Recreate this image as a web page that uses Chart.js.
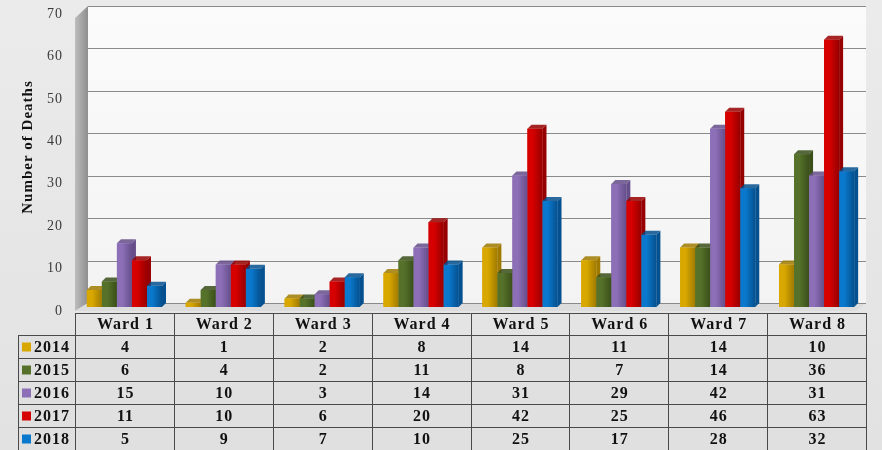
<!DOCTYPE html>
<html>
<head>
<meta charset="utf-8">
<script src="https://cdn.jsdelivr.net/npm/chart.js@4.4.1/dist/chart.umd.min.js"></script>
<style>
html,body{margin:0;padding:0;background:#e6e6e6;}
#wrap{width:882px;height:450px;position:relative;}
</style>
</head>
<body>
<div id="wrap"><canvas id="c" width="882" height="450"></canvas></div>
<script>
const wards = ['Ward 1','Ward 2','Ward 3','Ward 4','Ward 5','Ward 6','Ward 7','Ward 8'];
const years = ['2014','2015','2016','2017','2018'];
const v2014 = [4,1,2,8,14,11,14,10];
const v2015 = [6,4,2,11,8,7,14,36];
const v2016 = [15,10,3,14,31,29,42,31];
const v2017 = [11,10,6,20,42,25,46,63];
const v2018 = [5,9,7,10,25,17,28,32];
const series = [v2014,v2015,v2016,v2017,v2018];
const yTitle = 'Number of Deaths';
const colors = ['#d9a800','#56722a','#8d6fb8','#d60000','#0a78cc'];
const dark = ['#a07a00','#3a4f1a','#654e8a','#960000','#05508e'];
const yMin = 0, yMax = 70, yStep = 10;

const SERIF = '"Liberation Serif","DejaVu Serif",serif';
const D = 4; // 3D depth

const bgPlugin = {
  id:'bg',
  beforeDraw(chart){
    const {ctx, chartArea:a} = chart;
    const ys = chart.scales.y;
    ctx.letterSpacing = '1px';
    ctx.save();
    let g = ctx.createLinearGradient(0,0,0,450);
    g.addColorStop(0,'#ebebeb'); g.addColorStop(1,'#e2e2e2');
    ctx.fillStyle = g; ctx.fillRect(0,0,882,450);
    const wallL = a.left + 13;
    g = ctx.createLinearGradient(0,a.top,0,a.bottom);
    g.addColorStop(0,'#fbfbfb'); g.addColorStop(1,'#f3f3f3');
    ctx.fillStyle = g;
    ctx.fillRect(wallL, a.top - 4, a.right - wallL, a.bottom - a.top);
    g = ctx.createLinearGradient(a.left,0,wallL,0);
    g.addColorStop(0,'#bdbdbd'); g.addColorStop(1,'#8e8e8e');
    ctx.fillStyle = g;
    ctx.beginPath();
    ctx.moveTo(a.left, a.top + 8);
    ctx.lineTo(wallL, a.top - 4);
    ctx.lineTo(wallL, a.bottom - 4);
    ctx.lineTo(a.left, a.bottom + 4);
    ctx.closePath(); ctx.fill();
    ctx.fillStyle = '#dcdcdc';
    ctx.beginPath();
    ctx.moveTo(a.left, a.bottom + 4);
    ctx.lineTo(wallL, a.bottom - 4);
    ctx.lineTo(a.right, a.bottom - 4);
    ctx.lineTo(a.right - 10, a.bottom + 4);
    ctx.closePath(); ctx.fill();
    ctx.strokeStyle = '#8a8a8a'; ctx.lineWidth = 1;
    ys.ticks.forEach(t => {
      const y = Math.round(ys.getPixelForValue(t.value)) - 3.5;
      ctx.beginPath(); ctx.moveTo(wallL, y); ctx.lineTo(a.right, y); ctx.stroke();
    });
    ctx.translate(28, 147);
    ctx.rotate(-Math.PI/2);
    ctx.fillStyle = '#111';
    ctx.font = 'bold 15px ' + SERIF;
    ctx.textAlign = 'center'; ctx.textBaseline = 'middle';
    ctx.fillText(yTitle, 0, 0);
    ctx.restore();
  },
  afterDatasetsDraw(chart){
    const ctx = chart.ctx;
    const n = wards.length;
    ctx.save();
    for (let i = 0; i < n; i++){
      for (let d = 0; d < series.length; d++){
        const el = chart.getDatasetMeta(d).data[i];
        const w = el.width, x0 = el.x - w/2, x1 = el.x + w/2, y = el.y, b = el.base;
        ctx.fillStyle = dark[d];
        ctx.beginPath();
        ctx.moveTo(x1, y); ctx.lineTo(x1 + D, y - D); ctx.lineTo(x1 + D, b - D); ctx.lineTo(x1, b);
        ctx.closePath(); ctx.fill();
        ctx.globalAlpha = 0.85;
        ctx.beginPath();
        ctx.moveTo(x0, y); ctx.lineTo(x0 + D, y - D); ctx.lineTo(x1 + D, y - D); ctx.lineTo(x1, y);
        ctx.closePath(); ctx.fill();
        ctx.globalAlpha = 1;
        const g = ctx.createLinearGradient(x0,0,x1,0);
        g.addColorStop(0, colors[d]); g.addColorStop(0.35, colors[d]); g.addColorStop(1, dark[d]);
        ctx.fillStyle = g;
        ctx.fillRect(x0, y, w, b - y);
      }
    }
    ctx.restore();
  },
  afterDraw(chart){
    const ctx = chart.ctx;
    const xs = chart.scales.x;
    const n = wards.length;
    const cw = xs.getPixelForValue(1) - xs.getPixelForValue(0);
    const left = xs.getPixelForValue(0) - cw/2;
    const right = xs.getPixelForValue(n-1) + cw/2;
    const top = 313, rh = 23, hh = 22;
    const legL = 18;
    ctx.save();
    ctx.letterSpacing = '1px';
    ctx.fillStyle = '#e4e4e4';
    ctx.fillRect(left, top, right-left, hh);
    ctx.fillStyle = '#e0e0e0';
    ctx.fillRect(legL, top+hh, right-legL, rh*years.length);
    ctx.strokeStyle = '#4a4a4a'; ctx.lineWidth = 1;
    ctx.beginPath();
    ctx.moveTo(left, top+0.5); ctx.lineTo(right, top+0.5);
    for (let r = 0; r <= years.length; r++){
      const y = Math.round(top + hh + r*rh) + 0.5;
      ctx.moveTo(legL, y); ctx.lineTo(right, y);
    }
    for (let i = 0; i <= n; i++){
      const x = Math.round(left + i*cw) + 0.5;
      ctx.moveTo(x, top); ctx.lineTo(x, 450);
    }
    ctx.moveTo(legL+0.5, top+hh); ctx.lineTo(legL+0.5, 450);
    ctx.stroke();
    ctx.fillStyle = '#111';
    ctx.font = 'bold 16px ' + SERIF;
    ctx.textAlign = 'center'; ctx.textBaseline = 'middle';
    wards.forEach((w,i) => ctx.fillText(w, xs.getPixelForValue(i) + 1, top + hh/2 + 1));
    years.forEach((yr,r) => {
      const cy = top + hh + r*rh + rh/2 + 1;
      ctx.fillStyle = colors[r];
      ctx.fillRect(legL + 4, cy - 5, 9, 9);
      ctx.fillStyle = '#111';
      ctx.textAlign = 'left';
      ctx.fillText(yr, legL + 16, cy);
      ctx.textAlign = 'center';
      series[r].forEach((v,i) => ctx.fillText(String(v), xs.getPixelForValue(i) + 1, cy));
    });
    ctx.restore();
  }
};

new Chart(document.getElementById('c'), {
  type:'bar',
  data:{
    labels: wards,
    datasets: years.map((yr,d) => ({
      label: yr, data: series[d], backgroundColor: colors[d],
      barPercentage: 1.0, categoryPercentage: 0.76, borderWidth: 0
    }))
  },
  options:{
    responsive:false, animation:false,
    layout:{padding:{left:18, right:16, top:10, bottom:143}},
    plugins:{legend:{display:false}, tooltip:{enabled:false}},
    scales:{
      x:{display:false},
      y:{
        min:yMin, max:yMax,
        ticks:{stepSize:yStep, color:'#3a3a3a', padding:12, labelOffset:4, font:{family:SERIF, size:14}},
        grid:{display:false, drawTicks:false},
        border:{display:false},
        title:{display:false},
        afterFit(s){ s.width = 57; s.paddingTop = 0; s.paddingBottom = 0; }
      }
    }
  },
  plugins:[bgPlugin]
});
</script>
</body>
</html>
